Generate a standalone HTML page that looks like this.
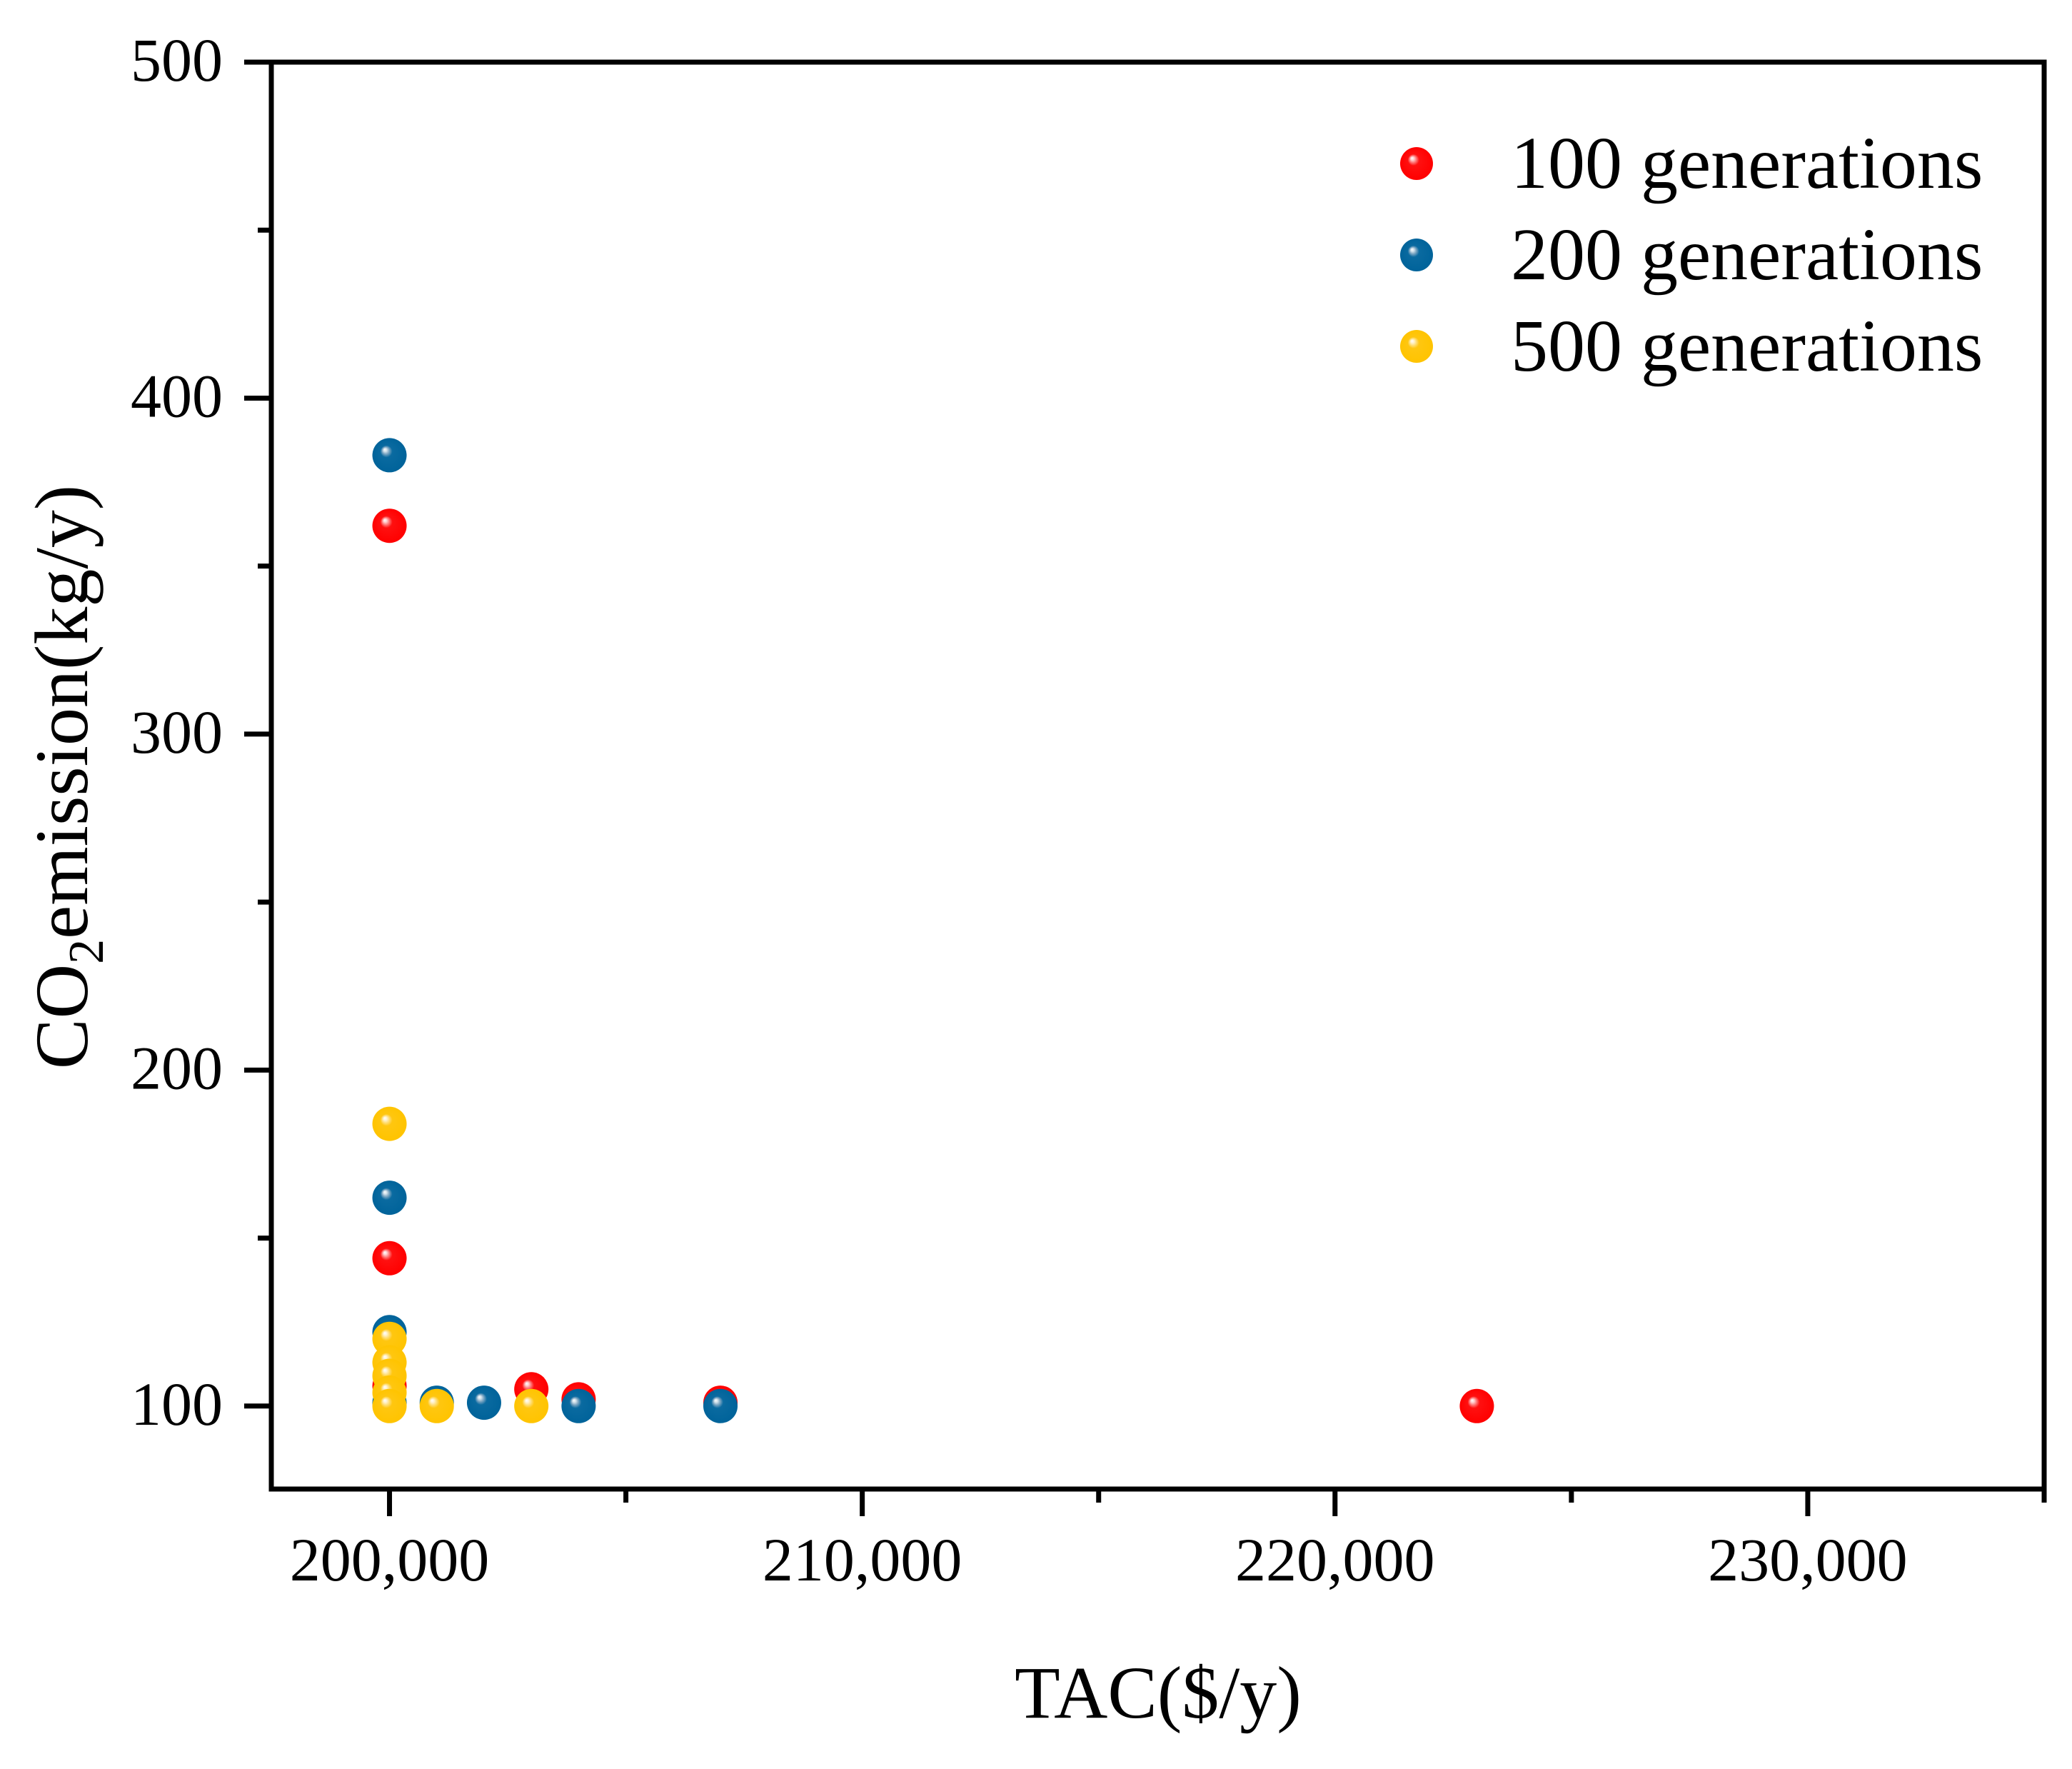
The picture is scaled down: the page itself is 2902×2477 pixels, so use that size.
<!DOCTYPE html>
<html><head><meta charset="utf-8">
<style>
html,body{margin:0;padding:0;background:#fff;}
svg{display:block;}
text{font-family:"Liberation Serif","Times New Roman",serif;fill:#000;}
</style></head>
<body>
<svg id="chart" width="2902" height="2477" viewBox="0 0 2902 2477" xmlns="http://www.w3.org/2000/svg">
<defs>
  <radialGradient id="g-red" cx="0.5" cy="0.5" r="0.5" fx="0.36" fy="0.33">
    <stop offset="0" stop-color="#ffffff"/><stop offset="0.1" stop-color="#ffd0d0"/><stop offset="0.2" stop-color="#ff8080"/><stop offset="0.35" stop-color="#ff1010"/><stop offset="1" stop-color="#ff0000"/>
  </radialGradient>
  <radialGradient id="g-blue" cx="0.5" cy="0.5" r="0.5" fx="0.36" fy="0.33">
    <stop offset="0" stop-color="#ffffff"/><stop offset="0.1" stop-color="#d0e0ea"/><stop offset="0.2" stop-color="#80a8c4"/><stop offset="0.35" stop-color="#0a6aa0"/><stop offset="1" stop-color="#00639a"/>
  </radialGradient>
  <radialGradient id="g-yellow" cx="0.5" cy="0.5" r="0.5" fx="0.36" fy="0.33">
    <stop offset="0" stop-color="#ffffff"/><stop offset="0.1" stop-color="#fff2d0"/><stop offset="0.2" stop-color="#ffe080"/><stop offset="0.35" stop-color="#ffc610"/><stop offset="1" stop-color="#ffc400"/>
  </radialGradient>
</defs>
<g id="axes"></g>
<g id="marks"></g>
<g id="legend"></g>
</svg>
<script>
const xTicks = [200000, 210000, 220000, 230000];
const xTickLabels = ["200,000", "210,000", "220,000", "230,000"];
const xMinorTicks = [205000, 215000, 225000, 235000];
const yTicks = [100, 200, 300, 400, 500];
const yTickLabels = ["100", "200", "300", "400", "500"];
const yMinorTicks = [150, 250, 350, 450];
const seriesNames = ["100 generations", "200 generations", "500 generations"];
const redX = [200000, 200000, 200000, 203000, 204000, 207000, 223000];
const redY = [362, 144, 106, 105, 102, 101, 100];
const blueX = [200000, 200000, 200000, 200000, 201000, 202000, 204000, 207000];
const blueY = [383, 162, 122, 101, 101, 101, 100, 100];
const yellowX = [200000, 200000, 200000, 200000, 200000, 200000, 201000, 203000];
const yellowY = [184, 120, 113, 109, 104, 100, 100, 100];

const NS = "http://www.w3.org/2000/svg";
const L = 380, R = 2863, T = 87, B = 2085;
const xMin = 197500, xMax = 235000, yMin = 75.3, yMax = 500;
function sx(v){ return L + (v - xMin) / (xMax - xMin) * (R - L); }
function sy(v){ return B - (v - yMin) / (yMax - yMin) * (B - T); }
function mk(tag, attrs, parent){
  const e = document.createElementNS(NS, tag);
  for (const k in attrs) e.setAttribute(k, attrs[k]);
  parent.appendChild(e); return e;
}
const axes = document.getElementById("axes");
const frame = mk("rect", {x:L, y:T, width:R-L, height:B-T, fill:"none", stroke:"#000", "stroke-width":7}, axes);



xTicks.forEach((v, i) => {
  const t = mk("line", {x1:sx(v), x2:sx(v), y1:B, y2:B+38, stroke:"#000", "stroke-width":7}, axes);
  
  
  const lb = mk("text", {x:sx(v), y:2213, "font-size":86, "text-anchor":"middle"}, axes);
  lb.textContent = xTickLabels[i];
  
  
});
xMinorTicks.forEach(v => {
  const t = mk("line", {x1:sx(v), x2:sx(v), y1:B, y2:B+19, stroke:"#000", "stroke-width":7}, axes);
  
  
});
yTicks.forEach((v, i) => {
  const t = mk("line", {x1:L-38, x2:L, y1:sy(v), y2:sy(v), stroke:"#000", "stroke-width":7}, axes);
  
  
  const lb = mk("text", {x:312, y:sy(v)+26, "font-size":86, "text-anchor":"end"}, axes);
  lb.textContent = yTickLabels[i];
  
  
});
yMinorTicks.forEach(v => {
  const t = mk("line", {x1:L-19, x2:L, y1:sy(v), y2:sy(v), stroke:"#000", "stroke-width":7}, axes);
  
  
});
const xt = mk("text", {x:1622, y:2405, "font-size":104, "text-anchor":"middle"}, axes);
xt.textContent = "TAC($/y)";


const yt = mk("text", {x:0, y:0, "font-size":106, "text-anchor":"middle", transform:"translate(122,1088) rotate(-90)"}, axes);
yt.innerHTML = 'CO<tspan font-size="70" dy="22">2</tspan><tspan dy="-22">emission(kg/y)</tspan>';



const marks = document.getElementById("marks");
function drawSeries(xs, ys, grad, name){
  xs.forEach((v, i) => {
    const c = mk("circle", {cx:sx(v), cy:sy(ys[i]), r:24, fill:"url(#" + grad + ")"}, marks);
    
    
  });
}
drawSeries(redX, redY, "g-red", "point-100-generations");
drawSeries(blueX, blueY, "g-blue", "point-200-generations");
drawSeries(yellowX, yellowY, "g-yellow", "point-500-generations");

const legend = document.getElementById("legend");
const grads = ["g-red", "g-blue", "g-yellow"];
const ly = [229, 357, 485];
seriesNames.forEach((n, i) => {
  const c = mk("circle", {cx:1984, cy:ly[i], r:23, fill:"url(#" + grads[i] + ")"}, legend);
  
  
  const t = mk("text", {x:2116, y:ly[i]+34, "font-size":104}, legend);
  t.textContent = n;
  
  
});
</script>
</body></html>
